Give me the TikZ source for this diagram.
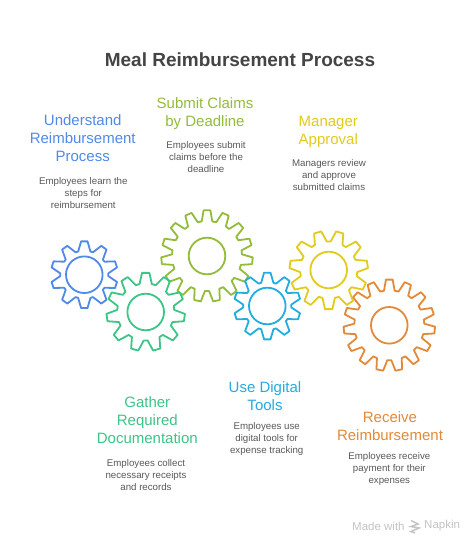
\documentclass[tikz,border=0pt]{standalone}
\usepackage{fontspec}
\setmainfont{Liberation Sans}
\definecolor{cblue}{HTML}{5089E8}
\definecolor{cgreen}{HTML}{3CC587}
\definecolor{colive}{HTML}{93BC3A}
\definecolor{ccyan}{HTML}{22ADDF}
\definecolor{cyellow}{HTML}{E3CB1C}
\definecolor{corange}{HTML}{E38A3A}
\definecolor{ctitle}{HTML}{444444}
\definecolor{cbody}{HTML}{595959}
\definecolor{cmark}{HTML}{C4C4C4}
\tikzset{
  x=1pt,y=-1pt,
  gearline/.style={line width=1.8pt,line join=round},
  titletext/.style={font=\fontsize{19}{22}\selectfont\bfseries,text=ctitle,anchor=center,inner sep=0pt},
  headtext/.style={font=\fontsize{15}{18}\selectfont,align=center,anchor=center,inner sep=0pt},
  bodytext/.style={font=\fontsize{9.7}{12}\selectfont,text=cbody,align=center,anchor=center,inner sep=0pt},
  marktext/.style={font=\fontsize{11.5}{13}\selectfont,text=cmark,anchor=west,inner sep=0pt},
}
% cx, cy, teeth, outer r, root r, phase (deg, y down), colour, tip half width, base half width
\newcommand{\gearshape}[9]{%
  \pgfmathsetmacro{\stepang}{360/#3}
  \pgfmathsetmacro{\tipang}{deg(#8/#4)}
  \pgfmathsetmacro{\baseang}{deg(#9/#5)}
  \pgfmathtruncatemacro{\lastidx}{#3-1}
  \draw[gearline,draw=#7]
   \foreach \i in {0,...,\lastidx}{
     \ifnum\i=0 ({#1+#5*cos(#6-\baseang)},{#2+#5*sin(#6-\baseang)}) \else
     -- ({#1+#5*cos(#6+\i*\stepang-\baseang)},{#2+#5*sin(#6+\i*\stepang-\baseang)}) \fi
     -- ({#1+#4*cos(#6+\i*\stepang-\tipang)},{#2+#4*sin(#6+\i*\stepang-\tipang)})
     -- ({#1+#4*cos(#6+\i*\stepang+\tipang)},{#2+#4*sin(#6+\i*\stepang+\tipang)})
     -- ({#1+#5*cos(#6+\i*\stepang+\baseang)},{#2+#5*sin(#6+\i*\stepang+\baseang)})
   } -- cycle;
  \draw[gearline,draw=#7] (#1,#2) circle[radius=18.3];
}
\begin{document}
\begin{tikzpicture}
\useasboundingbox (0,0) rectangle (474,544);
\fill[white] (0,0) rectangle (474,544);
\node[titletext] (title) at (240,60) {Meal Reimbursement Process};

\gearshape{84.3}{274.7}{10}{33.5}{24}{-90}{cblue}{3.2}{6.2}
\gearshape{207}{256}{15}{45.8}{35}{-90}{colive}{3.4}{5.3}
\gearshape{145.7}{312}{11}{39.3}{28.6}{-90}{cgreen}{3.7}{6.2}
\gearshape{267.3}{306}{10}{33.5}{24}{-90}{ccyan}{3.2}{6.2}
\gearshape{328.7}{270}{11}{39.3}{28.6}{90}{cyellow}{3.7}{6.2}
\gearshape{389.3}{325.3}{15}{45.8}{35}{-90}{corange}{3.4}{5.3}

\node[headtext,text=cblue] (h1) at (82.7,138) {Understand\\Reimbursement\\Process};
\node[bodytext] (b1) at (83.3,192.7) {Employees learn the\\steps for\\reimbursement};
\node[headtext,text=colive] (h2) at (205,113.8) {Submit Claims\\by Deadline};
\node[bodytext] (b2) at (206,157) {Employees submit\\claims before the\\deadline};
\node[headtext,text=cyellow] (h3) at (328.3,131.7) {Manager\\Approval};
\node[bodytext] (b3) at (329,174.7) {Managers review\\and approve\\submitted claims};
\node[headtext,text=cgreen] (h4) at (147.3,419.7) {Gather\\Required\\Documentation};
\node[bodytext] (b4) at (146,474.7) {Employees collect\\necessary receipts\\and records};
\node[headtext,text=ccyan] (h5) at (265,395.7) {Use Digital\\Tools};
\node[bodytext] (b5) at (266.7,438.7) {Employees use\\digital tools for\\expense tracking};
\node[headtext,text=corange] (h6) at (390,425.7) {Receive\\Reimbursement};
\node[bodytext] (b6) at (389.3,468.7) {Employees receive\\payment for their\\expenses};

\node[marktext] (m1) at (352,526) {Made with};
\node[marktext] (m2) at (424,526) {Napkin};
\draw[cmark,line width=1.5pt] (411,520.5) -- (418,524) -- (411,526.5) -- (419,528) -- (411,531.5) -- (415,533);
\end{tikzpicture}
\end{document}
